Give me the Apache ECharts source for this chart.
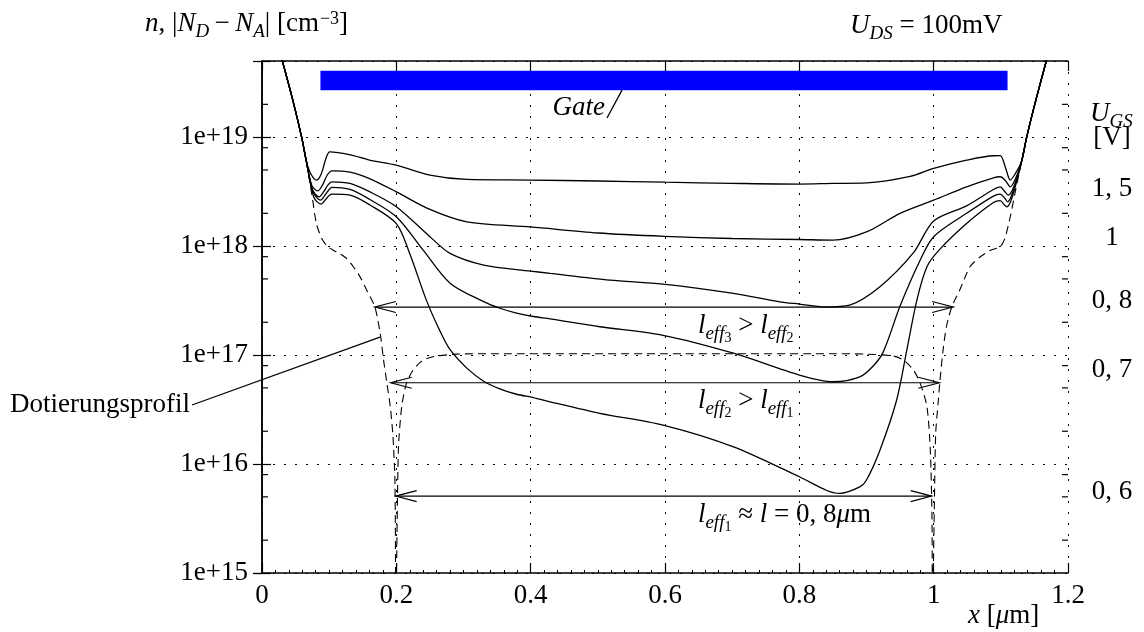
<!DOCTYPE html>
<html><head><meta charset="utf-8">
<script src="https://cdn.jsdelivr.net/npm/echarts@6/dist/echarts.min.js"></script>
<style>html,body{margin:0;padding:0;background:#fff;}#c{width:1144px;height:632px;}</style>
</head><body><div id="c"></div>
<script>
// ---------- data ----------
const xTickValues = [0, 0.2, 0.4, 0.6, 0.8, 1, 1.2];
const yMinorTicks = [2e15,5e15,8e15,2e16,5e16,8e16,2e17,5e17,8e17,2e18,5e18,8e18,2e19];
const ugsLabels = ['1, 5', '1', '0, 8', '0, 7', '0, 6'];

// n for U_GS = 1.5 V
const x_15 = [0.025,0.045,0.059,0.066,0.073,0.0814,0.088,0.095,0.101,0.13,0.16,0.2,0.25,0.305,0.4,0.5,0.6,0.7,0.8,0.85,0.9,0.965,1.0,1.049,1.089,1.099,1.107,1.114,1.121,1.131,1.1385,1.153,1.173];
const n_15 = [6.6e19,2.29e19,1.0e19,6.03e18,4.57e18,4.04e18,4.57e18,6.31e18,7.33e18,6.92e18,6.17e18,5.53e18,4.48e18,4.09e18,4.04e18,3.96e18,3.86e18,3.77e18,3.71e18,3.76e18,3.80e18,4.36e18,5.16e18,6.15e18,6.75e18,6.76e18,5.25e18,4.04e18,4.57e18,6.03e18,1.0e19,2.29e19,6.6e19];
// U_GS = 1 V
const x_10 = [0.025,0.045,0.059,0.066,0.074,0.083,0.09,0.097,0.104,0.131,0.16,0.2,0.25,0.305,0.4,0.5,0.6,0.7,0.8,0.85,0.9,0.95,1.0,1.049,1.089,1.099,1.107,1.114,1.122,1.131,1.1385,1.153,1.173];
const n_10 = [6.6e19,2.29e19,1.0e19,6.03e18,3.63e18,3.21e18,3.63e18,4.47e18,4.91e18,4.78e18,4.17e18,3.15e18,2.17e18,1.67e18,1.50e18,1.32e18,1.23e18,1.175e18,1.15e18,1.135e18,1.35e18,2.0e18,2.64e18,3.50e18,4.24e18,4.33e18,3.98e18,3.50e18,4.17e18,6.03e18,1.0e19,2.29e19,6.6e19];
// U_GS = 0.8 V
const x_08 = [0.025,0.045,0.059,0.066,0.075,0.085,0.092,0.098,0.104,0.131,0.16,0.2,0.25,0.28,0.33,0.4,0.429,0.518,0.597,0.702,0.771,0.8,0.838,0.875,0.92,0.97,1.0,1.049,1.089,1.099,1.106,1.111,1.119,1.131,1.1385,1.153,1.173];
const n_08 = [6.6e19,2.29e19,1.0e19,6.03e18,3.31e18,2.83e18,3.16e18,3.63e18,3.89e18,3.76e18,3.16e18,2.30e18,1.22e18,8.57e17,6.70e17,5.90e17,5.62e17,4.88e17,4.48e17,3.68e17,3.08e17,2.94e17,2.77e17,2.88e17,4.24e17,8.71e17,1.70e18,2.34e18,3.31e18,3.50e18,3.16e18,2.94e18,3.47e18,6.03e18,1.0e19,2.29e19,6.6e19];
// U_GS = 0.7 V
const x_07 = [0.025,0.045,0.059,0.066,0.076,0.087,0.094,0.1,0.104,0.131,0.16,0.2,0.24,0.28,0.33,0.354,0.379,0.404,0.429,0.503,0.597,0.702,0.8,0.85,0.89,0.91,0.925,0.95,0.98,1.0,1.049,1.089,1.099,1.106,1.11,1.118,1.131,1.1385,1.153,1.173];
const n_07 = [6.6e19,2.29e19,1.0e19,6.03e18,3.16e18,2.64e18,2.95e18,3.31e18,3.46e18,3.31e18,2.69e18,1.86e18,9.18e17,4.57e17,3.09e17,2.69e17,2.43e17,2.26e17,2.15e17,1.82e17,1.52e17,1.04e17,6.56e16,5.69e16,6.31e16,7.94e16,1.07e17,2.82e17,7.45e17,1.22e18,2.0e18,2.88e18,3.0e18,2.75e18,2.55e18,3.16e18,6.03e18,1.0e19,2.29e19,6.6e19];
// U_GS = 0.6 V
const x_06 = [0.025,0.045,0.059,0.066,0.077,0.088,0.095,0.1,0.104,0.131,0.16,0.2,0.22,0.245,0.265,0.28,0.305,0.33,0.354,0.379,0.404,0.429,0.503,0.597,0.702,0.8,0.84,0.86,0.89,0.9,0.92,0.945,0.96,0.975,0.99,1.008,1.049,1.089,1.099,1.105,1.109,1.117,1.131,1.1385,1.153,1.173];
const n_06 = [6.6e19,2.29e19,1.0e19,6.03e18,2.82e18,2.43e18,2.69e18,2.92e18,3.0e18,2.94e18,2.40e18,1.61e18,8.51e17,3.16e17,1.66e17,1.12e17,7.59e16,5.75e16,4.90e16,4.37e16,4.07e16,3.72e16,2.92e16,2.28e16,1.44e16,7.64e15,5.75e15,5.38e15,6.17e15,7.13e15,1.34e16,3.89e16,1.11e17,3.20e17,6.46e17,9.18e17,1.61e18,2.51e18,2.61e18,2.40e18,2.29e18,2.82e18,6.03e18,1.0e19,2.29e19,6.6e19];
// doping profile |N_D - N_A|
const x_dop = [0.025,0.045,0.059,0.066,0.074,0.081,0.089,0.097,0.106,0.116,0.126,0.136,0.146,0.156,0.168,0.176,0.181,0.186,0.191,0.195,0.198,0.1995,0.2005,0.203,0.208,0.215,0.225,0.24,0.26,0.29,0.35,0.6,0.85,0.9,0.94,0.955,0.97,0.98,0.99,0.995,0.9975,0.9982,0.9992,1.001,1.003,1.007,1.009,1.014,1.019,1.027,1.039,1.054,1.069,1.084,1.099,1.106,1.114,1.121,1.131,1.1385,1.153,1.173];
const n_dop = [6.6e19,2.29e19,1.0e19,6.03e18,3.04e18,1.61e18,1.175e18,1.0e18,9.18e17,8.51e17,7.71e17,6.46e17,5.22e17,3.94e17,2.77e17,1.58e17,9.0e16,5.50e16,3.36e16,1.78e16,6.65e15,3.16e14,3.16e14,1.34e16,3.36e16,5.50e16,7.28e16,9.0e16,9.79e16,1.02e17,1.03e17,1.03e17,1.03e17,1.02e17,9.8e16,9.0e16,7.28e16,5.50e16,3.36e16,1.34e16,3.16e15,3.16e14,3.16e14,4.0e15,1.9e16,3.86e16,5.50e16,1.11e17,1.82e17,2.77e17,3.98e17,6.46e17,7.94e17,9.12e17,9.86e17,1.175e18,1.86e18,3.04e18,6.03e18,1.0e19,2.29e19,6.6e19];

// gate electrode
const gateX = [0.087, 1.11];
const gateN = [2.70e19, 4.06e19];

// effective-length arrows
const arrowX0 = [0.168, 0.1916, 0.199];
const arrowX1 = [1.029, 1.0084, 0.997];
const arrowN  = [2.76e17, 5.57e16, 5.08e15];
const arrowLabels = [
  '{i|l}{s|eff}{ss|3}{r| > }{i|l}{s|eff}{ss|2}',
  '{i|l}{s|eff}{ss|2}{r| > }{i|l}{s|eff}{ss|1}',
  '{i|l}{s|eff}{ss|1}{r| ≈ }{i|l}{r| = 0, 8}{i|μ}{r|m}'
];

// ---------- rendering ----------
const F = 'Liberation Serif';
const FS = 27;
const rich = {
  r:  {fontFamily:F, fontSize:FS, fill:'#000', color:'#000', lineHeight:29, verticalAlign:'top'},
  i:  {fontFamily:F, fontSize:FS, fontStyle:'italic', fill:'#000', color:'#000', lineHeight:29, verticalAlign:'top'},
  s:  {fontFamily:F, fontSize:19, fontStyle:'italic', fill:'#000', color:'#000', lineHeight:19, padding:[12,0,0,0], verticalAlign:'top'},
  ss: {fontFamily:F, fontSize:14, fill:'#000', color:'#000', lineHeight:14, padding:[19,0,0,0], verticalAlign:'top'},
  sup:{fontFamily:F, fontSize:18, fill:'#000', color:'#000', lineHeight:18, padding:[0,0,0,1], verticalAlign:'top'}
};

function pairs(xs, ns){ return xs.map((x,k)=>[x, ns[k]]); }
const curveStyle = {color:'#000', width:1.3};
function curve(name, xs, ns){
  return {name, type:'line', data:pairs(xs,ns), showSymbol:false, smooth:0.3,
    lineStyle:curveStyle, itemStyle:{color:'#000'}, z:3, silent:true, clip:true};
}

const chart = echarts.init(document.getElementById('c'), null, {renderer:'canvas'});
const axisLineStyle = {color:'#000', width:1.5};
const gridLine = {show:true, lineStyle:{color:'#000', width:1, type:[2,9]}};
const yFmt = v => { const e = Math.log10(v); const r = Math.round(e); return Math.abs(e-r) < 1e-6 ? '1e+' + r : ''; };

chart.setOption({
  animation:false,
  backgroundColor:'#fff',
  grid:{left:262, right:76, top:61, bottom:59, containLabel:false},
  xAxis:[
    {type:'value', min:0, max:1.2, interval:0.2, position:'bottom',
     axisLine:{onZero:false, lineStyle:axisLineStyle},
     axisTick:{inside:true, length:10, lineStyle:{color:'#000', width:1.2}},
     minorTick:{show:true, splitNumber:10, length:3, lineStyle:{color:'#000', width:1}},
     axisLabel:{color:'#000', fontFamily:F, fontSize:FS, margin:9,
       formatter: v => { const k = xTickValues.findIndex(t => Math.abs(t-v) < 1e-9); return k >= 0 ? String(xTickValues[k]) : ''; }},
     splitLine:gridLine},
    {type:'value', min:0, max:1.2, interval:0.2, position:'top',
     axisLine:{onZero:false, lineStyle:axisLineStyle},
     axisTick:{inside:true, length:10, lineStyle:{color:'#000', width:1.2}},
     axisLabel:{show:false}, splitLine:{show:false}}
  ],
  yAxis:[
    {type:'log', logBase:10, min:1e15, max:5e19, position:'left',
     axisLine:{show:true, lineStyle:axisLineStyle},
     axisTick:{inside:true, length:9, lineStyle:{color:'#000', width:1.2}},
     axisLabel:{color:'#000', fontFamily:F, fontSize:FS, margin:14, formatter:yFmt},
     splitLine:gridLine},
    {type:'log', logBase:10, min:1e15, max:5e19, position:'right',
     axisLine:{show:true, lineStyle:axisLineStyle},
     axisTick:{inside:true, length:9, lineStyle:{color:'#000', width:1.2}},
     axisLabel:{show:false}, splitLine:{show:false}}
  ],
  series:[
    {type:'custom', name:'gate', coordinateSystem:'cartesian2d', z:2, silent:true,
     data:[[gateX[0], gateN[0], gateX[1], gateN[1]]],
     renderItem:(p, api) => {
       const a = api.coord([api.value(0), api.value(3)]);
       const b = api.coord([api.value(2), api.value(1)]);
       return {type:'rect', shape:{x:a[0], y:a[1], width:b[0]-a[0], height:b[1]-a[1]}, style:{fill:'#0000ff'}};
     }},
    {type:'custom', name:'yminor', coordinateSystem:'cartesian2d', z:4, silent:true,
     data:yMinorTicks.map(v => [0, v]),
     renderItem:(p, api) => {
       const v = api.value(1);
       const l = api.coord([0, v]), r = api.coord([1.2, v]);
       const st = {stroke:'#000', lineWidth:1.2};
       return {type:'group', children:[
         {type:'line', shape:{x1:l[0], y1:l[1], x2:l[0]+6, y2:l[1]}, style:st},
         {type:'line', shape:{x1:r[0], y1:r[1], x2:r[0]-6, y2:r[1]}, style:st}
       ]};
     }},
    {type:'line', name:'Dotierungsprofil', data:pairs(x_dop, n_dop), showSymbol:false, smooth:0.25,
     lineStyle:{color:'#000', width:1.1, type:[8,5]}, z:2, silent:true, clip:true},
    curve('1,5', x_15, n_15),
    curve('1', x_10, n_10),
    curve('0,8', x_08, n_08),
    curve('0,7', x_07, n_07),
    curve('0,6', x_06, n_06),
    {type:'custom', name:'arrows', coordinateSystem:'cartesian2d', z:5, silent:true,
     data:arrowN.map((n,k) => [arrowX0[k], n, arrowX1[k], k]),
     renderItem:(p, api) => {
       const y = api.value(1);
       const a = api.coord([api.value(0), y]), b = api.coord([api.value(2), y]);
       const lx = api.coord([0.649, y])[0];
       const L = 21, H = 5.5;
       const st = {stroke:'#000', lineWidth:1.2, fill:null};
       return {type:'group', children:[
         {type:'line', shape:{x1:a[0], y1:a[1], x2:b[0], y2:b[1]}, style:st},
         {type:'polyline', shape:{points:[[a[0]+L, a[1]-H],[a[0], a[1]],[a[0]+L, a[1]+H]]}, style:st},
         {type:'polyline', shape:{points:[[b[0]-L, b[1]-H],[b[0], b[1]],[b[0]-L, b[1]+H]]}, style:st},
         {type:'text', x:lx, y:a[1]+5, style:{text:arrowLabels[api.value(3)], rich:rich, align:'left', verticalAlign:'top'}}
       ]};
     }}
  ]
});

// ---------- annotations ----------
const dotEnd = chart.convertToPixel({gridIndex:0}, [0.1757, 1.46e17]);
const gateEnd = chart.convertToPixel({gridIndex:0}, [0.536, gateN[0]]);
const ugsY = [189, 238, 301, 370, 492];
const g = [
  {type:'text', x:145, y:10, style:{text:'{i|n}{r|, |}{i|N}{s|D}{r|\u2009−\u2009}{i|N}{s|A}{r|| [cm}{sup|−3}{r|]}', rich:rich}},
  {type:'text', x:850, y:12, style:{text:'{i|U}{s|DS}{r| = 100mV}', rich:rich}},
  {type:'text', x:1090, y:100, style:{text:'{i|U}{s|GS}', rich:rich}},
  {type:'text', x:1112, y:124, style:{text:'{r|[V]}', rich:rich, align:'center'}},
  {type:'text', x:968, y:602, style:{text:'{i|x}{r| [}{i|μ}{r|m]}', rich:rich}},
  {type:'text', x:10, y:391, style:{text:'{r|Dotierungsprofil}', rich:rich}},
  {type:'line', shape:{x1:192, y1:405, x2:dotEnd[0], y2:dotEnd[1]}, style:{stroke:'#000', lineWidth:1.3}},
  {type:'text', x:605, y:94, style:{text:'{i|Gate}', rich:rich, align:'right'}},
  {type:'line', shape:{x1:607, y1:118, x2:gateEnd[0], y2:gateEnd[1]}, style:{stroke:'#000', lineWidth:1.3}}
];
ugsLabels.forEach((t,k) => g.push({type:'text', x:1112, y:ugsY[k]-14, style:{text:'{r|'+t+'}', rich:rich, align:'center'}}));
chart.setOption({graphic:g});
</script>
</body></html>
